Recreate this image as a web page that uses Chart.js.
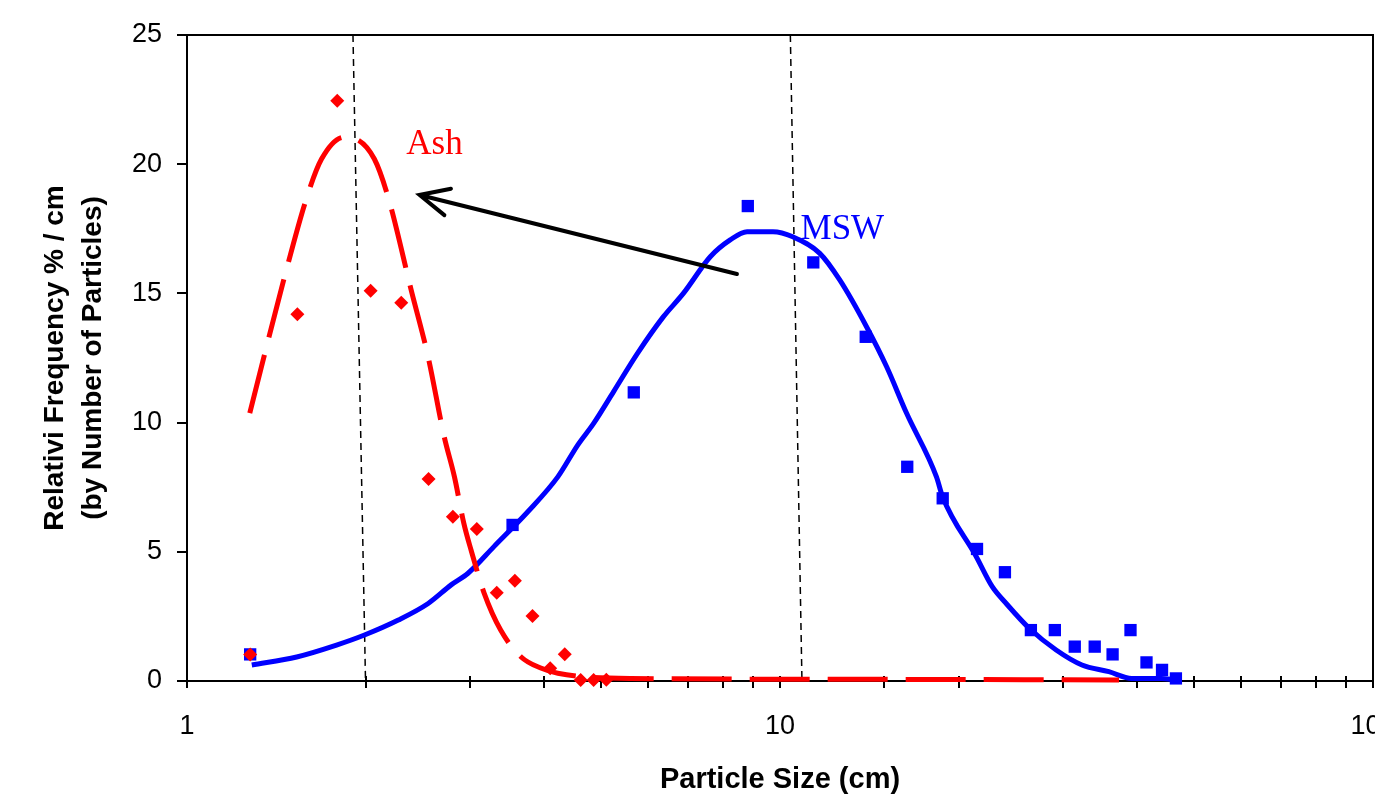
<!DOCTYPE html>
<html>
<head>
<meta charset="utf-8">
<script src="https://cdn.jsdelivr.net/npm/chart.js@4.4.1/dist/chart.umd.min.js"></script>
<style>
  html, body { margin: 0; padding: 0; background: #fff; overflow: hidden; }
  canvas { display: block; }
</style>
</head>
<body>
<canvas id="psdChart" width="1375" height="803"></canvas>
<script>
// measured points (particle size in cm, relative frequency % / cm)
const ashSize = [1.278, 1.535, 1.792, 2.04, 2.298, 2.555, 2.808, 3.081, 3.329, 3.572, 3.825, 4.097, 4.335, 4.612, 4.85, 5.095];
const ashFreq = [1.03, 14.19, 22.46, 15.1, 14.64, 7.82, 6.36, 5.88, 3.42, 3.88, 2.52, 0.49, 1.04, 0.04, 0.04, 0.05];

const mswSize = [1.278, 3.54, 5.668, 8.825, 11.38, 13.95, 16.39, 18.81, 21.49, 23.95, 26.49, 29.07, 31.41, 33.94, 36.38, 39.0, 41.5, 44.08, 46.52];
const mswFreq = [1.03, 6.04, 11.17, 18.38, 16.2, 13.32, 8.29, 7.07, 5.11, 4.21, 1.97, 1.97, 1.33, 1.33, 1.03, 1.97, 0.72, 0.43, 0.1];

// fitted distribution curves
const ashFitSize = [1.276, 1.455, 1.591, 1.686, 1.843, 1.916, 2.07, 2.185, 2.39, 2.55, 2.715, 2.825, 2.93, 3.013, 3.17, 3.38, 3.66, 3.95, 4.22, 5.6, 10.8, 37.3];
const ashFitFreq = [10.37, 15.5, 18.69, 20.2, 21.05, 21.0, 20.2, 18.7, 15.1, 12.55, 9.45, 7.9, 6.1, 5.07, 3.4, 1.97, 0.93, 0.5, 0.3, 0.1, 0.07, 0.04];

const mswFitSize = [1.286, 1.531, 1.787, 1.992, 2.272, 2.551, 2.789, 2.978, 3.293, 3.756, 4.22, 4.559, 4.85, 5.241, 5.75, 6.36, 6.871, 7.628, 8.241, 8.8, 9.732, 10.51, 11.67, 12.61, 14.0, 15.13, 16.35, 18.36, 18.8, 21.43, 22.8, 24.07, 26.32, 29.22, 32.3, 35.86, 39.2, 44.0, 46.47];
const mswFitFreq = [0.62, 0.93, 1.39, 1.78, 2.36, 3.0, 3.72, 4.17, 5.2, 6.55, 7.9, 9.13, 9.97, 11.2, 12.68, 14.1, 15.0, 16.42, 17.07, 17.39, 17.39, 17.19, 16.55, 15.52, 13.7, 12.16, 10.36, 7.9, 7.13, 4.81, 3.65, 3.0, 2.04, 1.2, 0.62, 0.36, 0.1, 0.1, 0.04];

// dashed marker lines, x at top (y = 25) and at bottom (y = 0)
const markerTop = [1.905, 10.41];
const markerBottom = [2.0, 10.89];

const xLabels = [1, 10, 100];

// notes on the plot, in data units
const seriesNames = ['Ash', 'MSW'];
const seriesColors = ['#ff0000', '#0000ff'];
const nameAt = [[2.343, 20.39], [10.83, 17.09]];
const arrowFrom = [8.46, 15.75];
const arrowTo = [2.467, 18.81];

const zip = (xs, ys) => xs.map((x, i) => ({ x: x, y: ys[i] }));

const markerSets = markerTop.map((t, i) => ({
  data: [{ x: t, y: 25 }, { x: markerBottom[i], y: 0 }],
  showLine: true,
  pointRadius: 0,
  borderColor: '#000',
  borderWidth: 1.5,
  borderDash: [7, 5]
}));

// keep the plot area where it is, whatever the labels overhang
function noOverhang(s) {
  s.paddingLeft = 0;
  s.paddingRight = 0;
  s.paddingTop = 0;
  s.paddingBottom = 0;
}

// frame, crossing ticks, arrow, labels and axis titles
const plotExtras = {
  id: 'plotExtras',
  beforeDatasetsDraw(chart) {
    const { ctx, chartArea: a, scales: { x, y } } = chart;
    ctx.save();
    ctx.strokeStyle = '#000';
    ctx.lineWidth = 2;
    ctx.strokeRect(a.left, a.top, a.right - a.left, a.bottom - a.top);
    ctx.beginPath();
    x.ticks.forEach(t => {
      const px = Math.round(x.getPixelForValue(t.value));
      ctx.moveTo(px, a.bottom - 5);
      ctx.lineTo(px, a.bottom + 7);
    });
    y.ticks.forEach(t => {
      const py = Math.round(y.getPixelForValue(t.value));
      ctx.moveTo(a.left - 10, py);
      ctx.lineTo(a.left, py);
    });
    ctx.stroke();
    ctx.restore();
  },
  afterDatasetsDraw(chart) {
    const { ctx, chartArea: a, scales: { x, y } } = chart;
    ctx.save();

    // arrow from MSW towards Ash
    const x0 = x.getPixelForValue(arrowFrom[0]), y0 = y.getPixelForValue(arrowFrom[1]);
    const x1 = x.getPixelForValue(arrowTo[0]), y1 = y.getPixelForValue(arrowTo[1]);
    const ang = Math.atan2(y0 - y1, x0 - x1);
    ctx.strokeStyle = '#000';
    ctx.lineWidth = 4;
    ctx.lineCap = 'round';
    ctx.beginPath();
    ctx.moveTo(x0, y0);
    ctx.lineTo(x1, y1);
    ctx.moveTo(x1 + 32 * Math.cos(ang - 0.44), y1 + 32 * Math.sin(ang - 0.44));
    ctx.lineTo(x1, y1);
    ctx.lineTo(x1 + 32 * Math.cos(ang + 0.44), y1 + 32 * Math.sin(ang + 0.44));
    ctx.stroke();

    // series names
    ctx.font = '35px "Liberation Serif"';
    ctx.textAlign = 'left';
    ctx.textBaseline = 'alphabetic';
    seriesNames.forEach((name, i) => {
      ctx.fillStyle = seriesColors[i];
      ctx.fillText(name, x.getPixelForValue(nameAt[i][0]), y.getPixelForValue(nameAt[i][1]));
    });

    // axis titles
    ctx.fillStyle = '#000';
    ctx.textAlign = 'center';
    ctx.font = 'bold 29px "Liberation Sans"';
    ctx.fillText('Particle Size (cm)', (a.left + a.right) / 2, a.bottom + 107);
    ctx.font = 'bold 28px "Liberation Sans"';
    ctx.translate(0, (a.top + a.bottom) / 2);
    ctx.rotate(-Math.PI / 2);
    ctx.fillText('Relativi Frequency % / cm', 0, 63);
    ctx.fillText('(by Number of Particles)', 0, 101);
    ctx.restore();
  }
};

const tickFont = { family: '"Liberation Sans"', size: 27 };

new Chart(document.getElementById('psdChart').getContext('2d'), {
  type: 'scatter',
  data: {
    datasets: [
      { label: 'Ash', data: zip(ashSize, ashFreq), pointStyle: 'rectRot', pointRadius: 7, backgroundColor: '#ff0000', borderWidth: 0 },
      { label: 'MSW', data: zip(mswSize, mswFreq), pointStyle: 'rect', pointRadius: 8.7, backgroundColor: '#0000ff', borderWidth: 0 },
      { label: 'Ash fit', data: zip(ashFitSize, ashFitFreq), showLine: true, pointRadius: 0, borderColor: '#ff0000', borderWidth: 5, borderDash: [60, 18], cubicInterpolationMode: 'monotone' },
      { label: 'MSW fit', data: zip(mswFitSize, mswFitFreq), showLine: true, pointRadius: 0, borderColor: '#0000ff', borderWidth: 5, cubicInterpolationMode: 'monotone' }
    ].concat(markerSets)
  },
  options: {
    responsive: false,
    animation: false,
    events: [],
    clip: false,
    layout: { autoPadding: false, padding: { top: 35, right: 2, left: 0, bottom: 0 } },
    plugins: { legend: { display: false }, tooltip: { enabled: false } },
    scales: {
      x: {
        type: 'logarithmic',
        min: 1,
        max: 100,
        grid: { display: false },
        border: { display: false },
        ticks: {
          autoSkip: false,
          maxRotation: 0,
          padding: 21,
          color: '#000',
          font: tickFont,
          callback: v => xLabels.includes(v) ? String(v) : ''
        },
        afterFit: s => { s.height = 122; noOverhang(s); }
      },
      y: {
        min: 0,
        max: 25,
        grid: { display: false },
        border: { display: false },
        ticks: { stepSize: 5, padding: 17, color: '#000', font: tickFont },
        afterFit: s => { s.width = 187; noOverhang(s); }
      }
    }
  },
  plugins: [plotExtras]
});
</script>
</body>
</html>
